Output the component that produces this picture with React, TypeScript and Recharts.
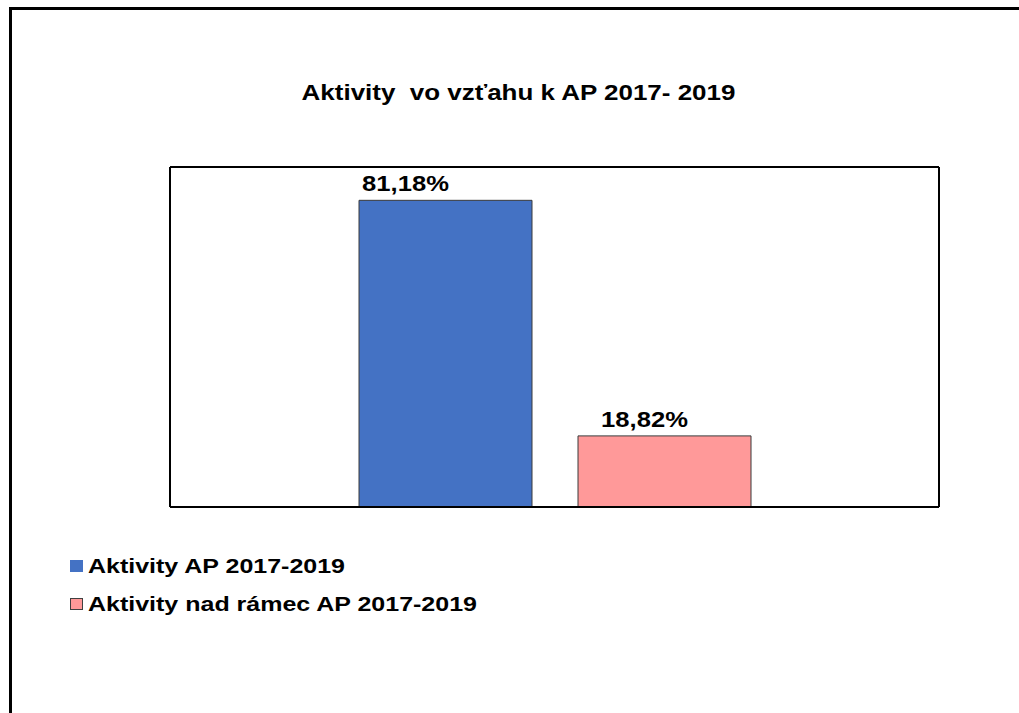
import { BarChart, Bar, XAxis, YAxis, Legend, LabelList } from "recharts";

const TITLE = "Aktivity  vo vzťahu k AP 2017- 2019";
const CATEGORIES = ["AP 2017-2019"];
const SERIES_NAMES = ["Aktivity AP 2017-2019", "Aktivity nad rámec AP 2017-2019"];
const SERIES_VALUES = [81.18, 18.82];
const SERIES_COLORS = ["#4472C4", "#FF9999"];
const Y_DOMAIN = [0, 90];

const FONT = '"Liberation Sans", Arial, sans-serif';
// the original is stretched a bit horizontally
const STRETCH = 1.19;
// data labels sit left of bar centre in the original
const LABEL_DX = [-40, -20];

const data = CATEGORIES.map((name) => {
  const row: Record<string, string | number> = { name };
  SERIES_VALUES.forEach((v, i) => {
    row[`s${i}`] = v;
  });
  return row;
});

function fmtPct(v: number) {
  return v.toFixed(2).replace(".", ",") + "%";
}

function makeLabel(dx: number) {
  return function BarLabel(props: any) {
    const { x, y, width, value } = props;
    const cx = Number(x) + Number(width) / 2 + dx;
    const cy = Number(y) - 9;
    return (
      <text
        transform={`translate(${cx},${cy}) scale(${STRETCH},1)`}
        textAnchor="middle"
        fontFamily={FONT}
        fontWeight="bold"
        fontSize={21.5}
        fill="#000"
      >
        {fmtPct(Number(value))}
      </text>
    );
  };
}

function LegendBox() {
  return (
    <div style={{ fontFamily: FONT }}>
      {SERIES_NAMES.map((name, i) => (
        <div key={name} style={{ position: "relative", height: 38 }}>
          <div
            style={{
              position: "absolute",
              left: 4,
              top: 10,
              width: 13,
              height: 12,
              background: SERIES_COLORS[i],
              border: i === 1 ? "1px solid #404040" : "none",
              boxSizing: "border-box",
            }}
          />
          <div
            style={{
              position: "absolute",
              left: 22,
              top: 5,
              fontSize: 21,
              lineHeight: "21px",
              fontWeight: "bold",
              whiteSpace: "nowrap",
              color: "#000",
              transform: `scaleX(${STRETCH})`,
              transformOrigin: "left center",
            }}
          >
            {name}
          </div>
        </div>
      ))}
    </div>
  );
}

const axisLine = { stroke: "#000", strokeWidth: 2 };

export default function App() {
  return (
    <div
      style={{
        position: "fixed",
        left: 0,
        top: 0,
        width: 1019,
        height: 713,
        overflow: "hidden",
        background: "#fff",
      }}
    >
      <div
        style={{
          position: "absolute",
          left: 9,
          top: 7,
          width: 1100,
          height: 800,
          border: "3px solid #000",
        }}
      />
      <div
        style={{
          position: "absolute",
          left: 0,
          top: 82,
          width: 1037,
          textAlign: "center",
          fontFamily: FONT,
          fontWeight: "bold",
          fontSize: 22,
          lineHeight: "22px",
          whiteSpace: "pre",
          color: "#000",
          transform: "scaleX(1.18)",
          transformOrigin: "center",
        }}
      >
        {TITLE}
      </div>
      <div style={{ position: "absolute", left: 0, top: 0 }}>
        <BarChart
          width={1019}
          height={713}
          data={data}
          margin={{ top: 166, right: 79, bottom: 205, left: 169 }}
          barGap={46}
          barSize={173}
        >
          <XAxis dataKey="name" height={1} tick={false} tickLine={false} axisLine={axisLine} />
          <XAxis
            xAxisId="top"
            orientation="top"
            dataKey="name"
            height={1}
            tick={false}
            tickLine={false}
            axisLine={axisLine}
          />
          <YAxis domain={Y_DOMAIN} width={1} tick={false} tickLine={false} axisLine={axisLine} />
          <YAxis
            yAxisId="right"
            orientation="right"
            domain={Y_DOMAIN}
            width={1}
            tick={false}
            tickLine={false}
            axisLine={axisLine}
          />
          {SERIES_NAMES.map((name, i) => (
            <Bar
              key={name}
              dataKey={`s${i}`}
              name={name}
              fill={SERIES_COLORS[i]}
              stroke="#3a3a3a"
              strokeWidth={1}
              isAnimationActive={false}
            >
              <LabelList dataKey={`s${i}`} content={makeLabel(LABEL_DX[i])} />
            </Bar>
          ))}
          <Legend
            layout="vertical"
            align="center"
            verticalAlign="middle"
            content={() => <LegendBox />}
            wrapperStyle={{ left: 66, top: 550, width: 500 }}
          />
        </BarChart>
      </div>
    </div>
  );
}
